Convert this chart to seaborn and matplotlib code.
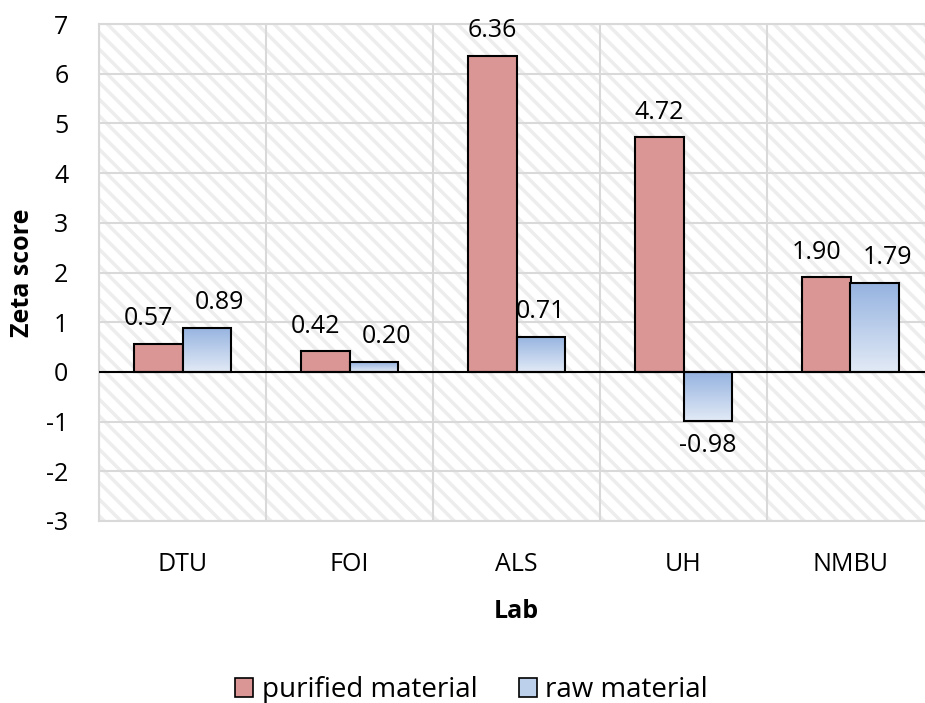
import numpy as np
import pandas as pd
import matplotlib
matplotlib.use('Agg')
import matplotlib.pyplot as plt
import seaborn as sns
from matplotlib.patches import Patch

labs = ['DTU', 'FOI', 'ALS', 'UH', 'NMBU']
purified = [0.57, 0.42, 6.36, 4.72, 1.90]
raw = [0.89, 0.20, 0.71, -0.98, 1.79]
series = ['purified material', 'raw material']

df = pd.DataFrame({
    'Lab': labs * 2,
    'Zeta score': purified + raw,
    'material': [series[0]] * len(labs) + [series[1]] * len(labs),
})

sns.set_style('white')
plt.rcParams['font.family'] = ['Open Sans', 'DejaVu Sans']
plt.rcParams['hatch.linewidth'] = 2.5
plt.rcParams['axes.unicode_minus'] = False
plt.rcParams['text.color'] = 'black'
plt.rcParams['xtick.color'] = 'black'
plt.rcParams['ytick.color'] = 'black'
plt.rcParams['axes.labelcolor'] = 'black'

red = '#D99694'
blue_top = np.array([0x95, 0xB3, 0xE0]) / 255
blue_bot = np.array([0xE2, 0xEA, 0xF6]) / 255
blue_mid = (blue_top + blue_bot) / 2

fig = plt.figure(figsize=(9.25, 7.03), dpi=100)
ax = fig.add_axes([99 / 925, 182 / 703, 835 / 925, 497 / 703])

# hatched background like Excel's wide downward diagonal
ax.patch.set_facecolor('white')
ax.patch.set_edgecolor('#EDEDED')
ax.patch.set_hatch('\\\\')
ax.patch.set_linewidth(0)

sns.barplot(data=df, x='Lab', y='Zeta score', hue='material', order=labs,
            hue_order=series, palette=[red, blue_mid], width=0.58,
            saturation=1, edgecolor='black', linewidth=1.5, ax=ax,
            legend=False, zorder=3)

# gradient fill for the raw material bars
grad = np.linspace(0, 1, 256)[:, None, None]
img = blue_top[None, None, :] * (1 - grad) + blue_bot[None, None, :] * grad
for p in ax.containers[1]:
    x0, y0 = p.get_x(), p.get_y()
    w, h = p.get_width(), p.get_height()
    lo, hi = min(y0, y0 + h), max(y0, y0 + h)
    im = ax.imshow(img, extent=[x0, x0 + w, lo, hi], aspect='auto',
                   origin='upper', zorder=3.5, interpolation='bilinear')
    im.set_clip_path(p)
    p.set_facecolor('none')
    p.set_zorder(4)

# data labels; nudge apart when the two labels of a lab would collide
texts = [ax.bar_label(c, fmt='%.2f', padding=9, fontsize=18, zorder=5)
         for c in ax.containers]
for i in range(len(labs)):
    a, b = purified[i], raw[i]
    if a > 0 and b > 0 and abs(a - b) < 0.6:
        for t, dx in ((texts[0][i], -7), (texts[1][i], 9)):
            t.xyann = (dx, t.xyann[1])

ax.axhline(0, color='black', lw=1.5, zorder=4.5)

ax.set_xlim(-0.5, len(labs) - 0.5)
ax.set_ylim(-3, 7)
ax.set_yticks(range(-3, 8))
ax.set_xticks(np.arange(len(labs)) - 0.5, minor=True)
ax.grid(True, axis='y', which='major', color='#D9D9D9', lw=1.5, zorder=1)
ax.grid(True, axis='x', which='minor', color='#D9D9D9', lw=1.5, zorder=1)
ax.grid(False, axis='x', which='major')
ax.set_axisbelow(True)
ax.tick_params(axis='both', which='both', length=0, labelsize=18)
ax.tick_params(axis='y', pad=22)
ax.tick_params(axis='x', pad=22)
for s in ax.spines.values():
    s.set_color('#D9D9D9')
    s.set_linewidth(1.5)

ax.set_xlabel('Lab', fontsize=18, fontweight='bold', labelpad=16)
ax.set_ylabel('Zeta score', fontsize=18, fontweight='bold', labelpad=8)

handles = [Patch(facecolor=red, edgecolor='black', lw=1.2),
           Patch(facecolor=blue_mid, edgecolor='black', lw=1.2)]
fig.legend(handles, series, loc='center', bbox_to_anchor=(0.51, 0.0185),
           ncol=2, frameon=False, fontsize=20, handlelength=0.65,
           handleheight=0.65, handletextpad=0.3, columnspacing=1.5)

fig.savefig('out.png', dpi=100)
